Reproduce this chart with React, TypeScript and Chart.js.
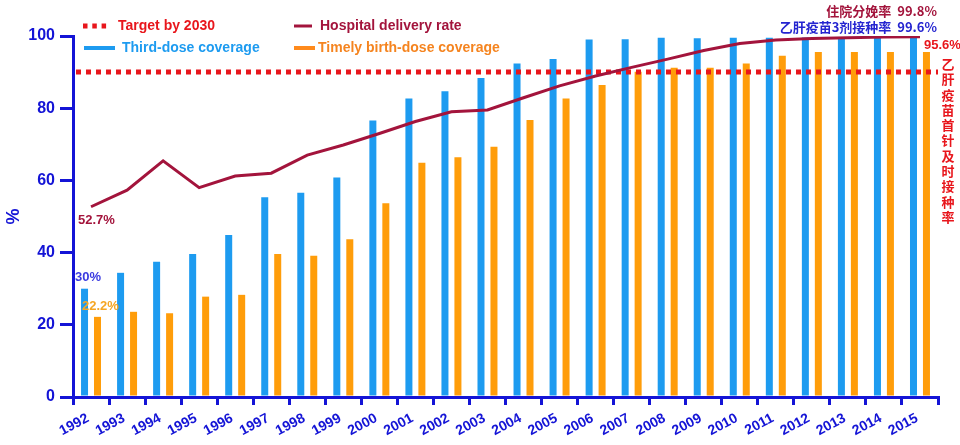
import React, { useEffect, useRef } from 'react';
import { Chart, registerables } from 'chart.js';

Chart.register(...registerables);

const years = ['1992','1993','1994','1995','1996','1997','1998','1999','2000','2001','2002','2003','2004','2005','2006','2007','2008','2009','2010','2011','2012','2013','2014','2015'];
const thirdDose = [30, 34.4, 37.5, 39.6, 44.9, 55.3, 56.6, 60.8, 76.6, 82.7, 84.7, 88.4, 92.4, 93.6, 99.0, 99.1, 99.5, 99.4, 99.5, 99.5, 99.6, 99.5, 99.6, 99.6];
const timelyBirthDose = [22.2, 23.6, 23.2, 27.8, 28.3, 39.6, 39.1, 43.7, 53.7, 64.9, 66.4, 69.3, 76.7, 82.7, 86.4, 90.1, 91.2, 91.2, 92.4, 94.5, 95.6, 95.6, 95.6, 95.6];
const hospitalDelivery = [52.7, 57.3, 65.4, 58.0, 61.2, 62.0, 67.0, 69.8, 73.0, 76.3, 79.0, 79.5, 82.9, 86.2, 88.9, 91.3, 93.6, 96.0, 97.9, 98.9, 99.3, 99.5, 99.7, 99.8];
const targetValue = 90;

const AXIS = '#1414d6';
const RED = '#e8161c';
const MAROON = '#a3143c';
const BLUE = '#1d9bf0';
const ORANGE = '#ff9d0a';
const ORANGE_TEXT = '#f5841f';
const FONT = '"Liberation Sans", Arial, sans-serif';
const CJK = '"Noto Sans CJK SC", "Liberation Sans", sans-serif';

const overlayPlugin = {
  id: 'overlay',
  beforeDatasetDraw(chart: any, args: any) {
    if (args.index !== 0) return;
    const { ctx, chartArea, scales } = chart;
    const py = scales.y.getPixelForValue(targetValue);
    ctx.save();
    ctx.strokeStyle = RED;
    ctx.lineWidth = 5;
    ctx.setLineDash([5, 5]);
    ctx.beginPath();
    ctx.moveTo(chartArea.left + 3, py);
    ctx.lineTo(chartArea.right, py);
    ctx.stroke();
    ctx.restore();
  },
  afterDraw(chart: any) {
    const { ctx, scales, chartArea } = chart;
    const x = scales.x;
    const y = scales.y;
    ctx.save();
    // legend
    ctx.textBaseline = 'middle';
    ctx.textAlign = 'left';
    ctx.font = `bold 14px ${FONT}`;
    // row 1
    ctx.strokeStyle = RED;
    ctx.lineWidth = 5;
    ctx.setLineDash([4.5, 4.8]);
    ctx.beginPath();
    ctx.moveTo(83, 26);
    ctx.lineTo(107, 26);
    ctx.stroke();
    ctx.setLineDash([]);
    ctx.fillStyle = RED;
    ctx.fillText('Target by 2030', 118, 26);
    ctx.strokeStyle = MAROON;
    ctx.lineWidth = 3;
    ctx.beginPath();
    ctx.moveTo(294, 26);
    ctx.lineTo(312, 26);
    ctx.stroke();
    ctx.fillStyle = MAROON;
    ctx.fillText('Hospital delivery rate', 320, 26);
    // row 2
    ctx.strokeStyle = BLUE;
    ctx.lineWidth = 4;
    ctx.beginPath();
    ctx.moveTo(84, 48);
    ctx.lineTo(115, 48);
    ctx.stroke();
    ctx.fillStyle = BLUE;
    ctx.fillText('Third-dose coverage', 122, 48);
    ctx.strokeStyle = '#ff8a1c';
    ctx.beginPath();
    ctx.moveTo(294, 48);
    ctx.lineTo(315, 48);
    ctx.stroke();
    ctx.fillStyle = ORANGE_TEXT;
    ctx.fillText('Timely birth-dose coverage', 318, 48);

    // data annotations
    ctx.font = `bold 13px ${FONT}`;
    const x0 = x.getPixelForValue(0);
    ctx.fillStyle = MAROON;
    ctx.fillText(`${hospitalDelivery[0]}%`, x0 - 13, y.getPixelForValue(hospitalDelivery[0]) + 14);
    ctx.fillStyle = '#3b3be0';
    ctx.fillText(`${thirdDose[0]}%`, x0 - 16, y.getPixelForValue(thirdDose[0]) - 11);
    ctx.fillStyle = '#f5a623';
    ctx.fillText(`${timelyBirthDose[0]}%`, x0 - 9, y.getPixelForValue(timelyBirthDose[0]) - 10);

    // top-right annotations
    const r = chartArea.right - 1;
    ctx.textAlign = 'right';
    ctx.font = `bold 13px ${CJK}`;
    ctx.fillStyle = MAROON;
    ctx.fillText(`住院分娩率  ${hospitalDelivery[hospitalDelivery.length - 1]}%`, r, 11);
    ctx.fillStyle = '#2424d0';
    ctx.fillText(`乙肝疫苗3剂接种率  ${thirdDose[thirdDose.length - 1]}%`, r, 27);
    ctx.textAlign = 'left';
    ctx.fillStyle = RED;
    ctx.font = `bold 13px ${FONT}`;
    ctx.fillText(`${timelyBirthDose[timelyBirthDose.length - 1]}%`, chartArea.right - 14, 45);
    ctx.textAlign = 'center';
    ctx.font = `bold 13px ${CJK}`;
    const vert = '乙肝疫苗首针及时接种率';
    for (let i = 0; i < vert.length; i++) {
      ctx.fillText(vert[i], chartArea.right + 10, 64 + i * 15.3);
    }
    ctx.restore();
  },
};

export default function App() {
  const ref = useRef<HTMLCanvasElement>(null);
  useEffect(() => {
    if (!ref.current) return;
    const chart = new Chart(ref.current, {
      type: 'bar',
      data: {
        labels: years,
        datasets: [
          {
            type: 'line',
            label: 'Hospital delivery rate',
            data: hospitalDelivery,
            borderColor: MAROON,
            borderWidth: 3,
            pointRadius: 0,
            tension: 0,
            order: 0,
          } as any,
          {
            type: 'bar',
            label: 'Third-dose coverage',
            data: thirdDose,
            backgroundColor: BLUE,
            order: 1,
            barPercentage: 0.54,
            categoryPercentage: 0.72,
          },
          {
            type: 'bar',
            label: 'Timely birth-dose coverage',
            data: timelyBirthDose,
            backgroundColor: ORANGE,
            order: 2,
            barPercentage: 0.54,
            categoryPercentage: 0.72,
          },
        ],
      },
      options: {
        responsive: false,
        animation: false,
        layout: { padding: { top: 36, right: 22, bottom: 0, left: 0 } },
        plugins: {
          legend: { display: false },
          tooltip: { enabled: false },
        },
        scales: {
          x: {
            offset: true,
            grid: {
              display: true,
              drawOnChartArea: false,
              drawTicks: true,
              tickLength: 8,
              color: AXIS,
              lineWidth: 3,
              offset: true,
            },
            border: { display: true, color: AXIS, width: 3 },
            ticks: {
              color: AXIS,
              font: { family: FONT, size: 14, weight: 'bold' },
              minRotation: 28,
              maxRotation: 28,
              autoSkip: false,
              padding: 5,
              labelOffset: -3,
            },
            afterFit: (s: any) => { s.height = 48; },
          },
          y: {
            min: 0,
            max: 100,
            grid: {
              display: true,
              drawOnChartArea: false,
              drawTicks: true,
              tickLength: 13,
              color: AXIS,
              lineWidth: 3,
            },
            border: { display: true, color: AXIS, width: 3 },
            ticks: {
              stepSize: 20,
              color: AXIS,
              font: { family: FONT, size: 16, weight: 'bold' },
              padding: 5,
            },
            title: {
              display: true,
              text: '%',
              color: AXIS,
              font: { family: FONT, size: 18, weight: 'bold' },
              padding: { top: 3, bottom: 0 },
            },
            afterFit: (s: any) => { s.width = 73; },
          },
        },
      },
      plugins: [overlayPlugin],
    });
    return () => chart.destroy();
  }, []);
  return (
    <div style={{ position: 'fixed', left: 0, top: 0, width: 960, height: 445, background: '#fff' }}>
      <canvas ref={ref} width={960} height={445} style={{ display: 'block' }} />
    </div>
  );
}
